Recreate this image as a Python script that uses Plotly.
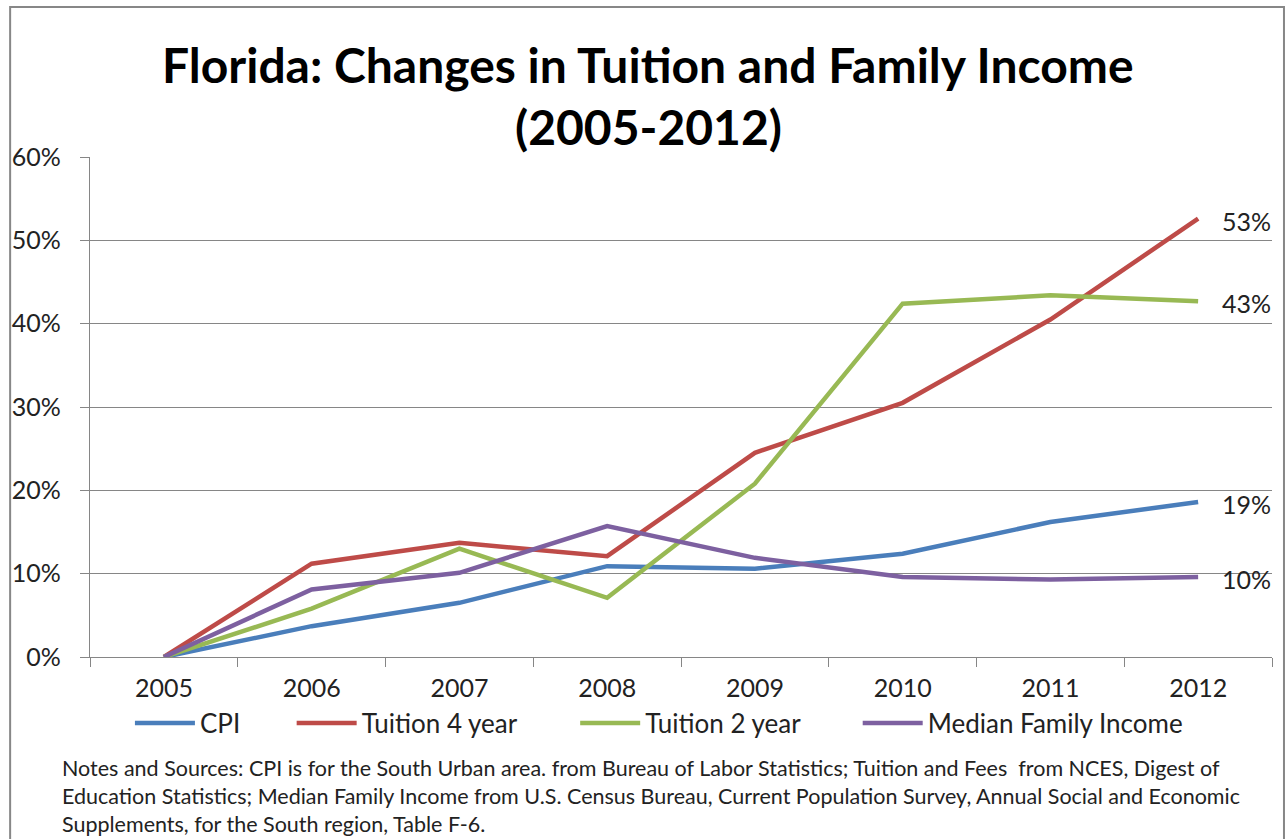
import plotly.graph_objects as go

years = ["2005", "2006", "2007", "2008", "2009", "2010", "2011", "2012"]
cpi = [0.0, 0.037, 0.065, 0.109, 0.106, 0.124, 0.162, 0.186]
tuition4 = [0.0, 0.112, 0.137, 0.121, 0.245, 0.305, 0.405, 0.526]
tuition2 = [0.0, 0.058, 0.130, 0.071, 0.208, 0.424, 0.434, 0.427]
median_income = [0.0, 0.081, 0.101, 0.157, 0.119, 0.096, 0.093, 0.096]
y_ticks = [0, 0.1, 0.2, 0.3, 0.4, 0.5, 0.6]
y_tick_labels = ["0%", "10%", "20%", "30%", "40%", "50%", "60%"]

series = [
    ("CPI", cpi, "#4A7EBB"),
    ("Tuition 4 year", tuition4, "#BE4B48"),
    ("Tuition 2 year", tuition2, "#98B954"),
    ("Median Family Income", median_income, "#7D60A0"),
]

FONT = "Lato"
W, H = 1286, 839
PL, PR, PT, PB = 88, 1272, 157, 657  # plot area in page pixels
L, T = PL, PT
R = W - PR
B = H - PB
pw, ph = PR - PL, PB - PT

def px(x):
    return (x - PL) / pw

def py(y):
    return (PB - y) / ph

legend_x = [136, 298, 582, 865]

fig = go.Figure()
for i, (name, vals, col) in enumerate(series):
    lg = "legend" if i == 0 else f"legend{i+1}"
    fig.add_trace(go.Scatter(
        x=years, y=vals, mode="lines", name=name,
        line=dict(color=col, width=4.5),
        legend=lg, showlegend=True,
    ))
    fig.add_annotation(
        x=len(years) - 1, y=vals[-1], text=f"{round(vals[-1]*100)}%",
        xref="x", yref="y", xanchor="left", yanchor="middle",
        xshift=22, yshift=-2, showarrow=False,
        font=dict(family=FONT, size=25, color="#222222"),
    )

legend_common = dict(
    orientation="h", yanchor="middle", xanchor="left",
    bgcolor="rgba(0,0,0,0)", borderwidth=0,
    font=dict(family=FONT, size=26, color="#222222"),
    itemwidth=60,
)
layout_legends = {}
for i in range(4):
    key = "legend" if i == 0 else f"legend{i+1}"
    layout_legends[key] = dict(legend_common, x=px(legend_x[i] - 8), y=py(723))

fig.update_layout(
    width=W, height=H,
    margin=dict(l=L, r=R, t=T, b=B, pad=0),
    paper_bgcolor="white", plot_bgcolor="white",
    font=dict(family=FONT, color="#222222"),
    showlegend=True,
    xaxis=dict(
        type="category", range=[-0.5, 7.5],
        showgrid=False, showline=True, linecolor="#868686", linewidth=1.3,
        ticks="outside", ticklen=9, tickcolor="#868686", tickwidth=1.3,
        tickson="boundaries",
        tickfont=dict(family=FONT, size=25, color="#222222"),
        ticklabelstandoff=9,
    ),
    yaxis=dict(
        range=[0, 0.6], tickvals=y_ticks, ticktext=y_tick_labels,
        showgrid=True, gridcolor="#868686", gridwidth=1.3,
        showline=True, linecolor="#868686", linewidth=1.3,
        ticks="outside", ticklen=9, tickcolor="#868686", tickwidth=1.3,
        tickfont=dict(family=FONT, size=25, color="#222222"),
        ticklabelstandoff=14, zeroline=False,
    ),
    **layout_legends,
)

fig.add_annotation(
    text="<b>Florida: Changes in Tuition and Family Income</b>",
    xref="paper", yref="paper", x=px(647), y=py(64),
    xanchor="center", yanchor="middle", showarrow=False,
    font=dict(family=FONT, size=48, color="black"),
)
fig.add_annotation(
    text="<b>(2005-2012)</b>",
    xref="paper", yref="paper", x=px(647), y=py(127),
    xanchor="center", yanchor="middle", showarrow=False,
    font=dict(family=FONT, size=48, color="black"),
)

notes = ("Notes and Sources: CPI is for the South Urban area. from Bureau of Labor Statistics; Tuition and Fees  from NCES, Digest of<br>"
         "Education Statistics; Median Family Income from U.S. Census Bureau, Current Population Survey, Annual Social and Economic<br>"
         "Supplements, for the South region, Table F-6.")
fig.add_annotation(
    text=notes, xref="paper", yref="paper", x=px(58), y=py(753),
    xanchor="left", yanchor="top", align="left", showarrow=False,
    font=dict(family=FONT, size=21.5, color="#222222"),
)

fig.add_shape(
    type="rect", xref="paper", yref="paper",
    x0=px(8), x1=px(1284), y0=py(860), y1=py(7),
    line=dict(color="#878787", width=2), fillcolor="rgba(0,0,0,0)", layer="below",
)

fig.write_html(
    "out.html",
    config={"displayModeBar": False},
    post_script="document.body.style.margin='0';document.body.style.overflow='hidden';",
)
